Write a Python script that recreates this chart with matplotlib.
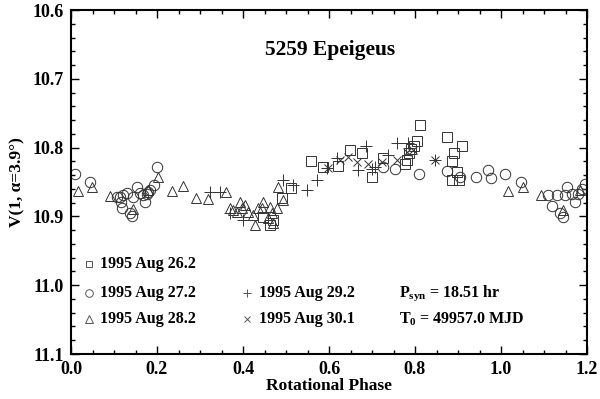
import matplotlib
matplotlib.use("Agg")
import matplotlib.pyplot as plt
from matplotlib.ticker import MultipleLocator, FormatStrFormatter

plt.rcParams['font.family'] = ['Liberation Serif', 'DejaVu Serif']
plt.rcParams['font.weight'] = 'bold'
plt.rcParams['mathtext.fontset'] = 'custom'
plt.rcParams['mathtext.rm'] = 'Liberation Serif:bold'
plt.rcParams['mathtext.bf'] = 'Liberation Serif:bold'
plt.rcParams['mathtext.it'] = 'Liberation Serif:bold'

# Aug 26.2 (squares)
sq_phase = [0.447, 0.470, 0.463, 0.491, 0.512, 0.558, 0.586, 0.621, 0.649, 0.677,
            0.700, 0.726, 0.777, 0.782, 0.786, 0.791, 0.798, 0.805, 0.812, 0.874,
            0.886, 0.891, 0.909, 0.898, 0.886, 0.902]
sq_mag = [10.901, 10.905, 10.913, 10.873, 10.859, 10.819, 10.828, 10.827, 10.803, 10.808,
          10.843, 10.815, 10.824, 10.818, 10.808, 10.802, 10.797, 10.790, 10.767, 10.785,
          10.819, 10.808, 10.798, 10.835, 10.847, 10.847]

# Aug 27.2 (circles)
ci_phase = [0.009, 0.044, 0.107, 0.114, 0.121, 0.130, 0.116, 0.119, 0.137, 0.142,
            0.144, 0.153, 0.160, 0.167, 0.172, 0.177, 0.179, 0.184, 0.193, 0.200,
            0.726, 0.753, 0.809, 0.874, 0.905, 0.942, 0.970, 0.977, 1.009, 1.047,
            1.109, 1.119, 1.130, 1.137, 1.144, 1.149, 1.153, 1.165, 1.172, 1.179,
            1.188, 1.195]
ci_mag = [10.838, 10.850, 10.872, 10.872, 10.869, 10.866, 10.879, 10.888, 10.895, 10.899,
          10.872, 10.857, 10.866, 10.869, 10.879, 10.867, 10.865, 10.862, 10.854, 10.828,
          10.828, 10.831, 10.838, 10.834, 10.843, 10.843, 10.833, 10.844, 10.838, 10.850,
          10.869, 10.885, 10.869, 10.895, 10.901, 10.869, 10.857, 10.867, 10.879, 10.867,
          10.860, 10.853]

# Aug 28.2 (triangles)
tr_phase = [0.016, 0.049, 0.091, 0.144, 0.179, 0.202, 0.235, 0.260, 0.291, 0.319,
            0.360, 0.370, 0.377, 0.386, 0.393, 0.398, 0.405, 0.412, 0.423, 0.428,
            0.435, 0.444, 0.447, 0.458, 0.463, 0.467, 0.470, 0.479, 0.481, 0.493,
            1.016, 1.051, 1.093, 1.144, 1.184]
tr_mag = [10.863, 10.857, 10.870, 10.889, 10.862, 10.843, 10.863, 10.856, 10.873, 10.875,
          10.865, 10.888, 10.891, 10.894, 10.879, 10.888, 10.883, 10.894, 10.898, 10.913,
          10.888, 10.888, 10.879, 10.902, 10.886, 10.895, 10.910, 10.888, 10.857, 10.876,
          10.863, 10.857, 10.869, 10.891, 10.862]

# Aug 29.2 (plus)
pl_phase = [0.323, 0.347, 0.370, 0.400, 0.493, 0.516, 0.549, 0.572, 0.595, 0.619,
            0.686, 0.667, 0.700, 0.707, 0.737, 0.758, 0.784, 0.847]
pl_mag = [10.865, 10.865, 10.895, 10.905, 10.847, 10.854, 10.862, 10.847, 10.830, 10.815,
          10.798, 10.833, 10.831, 10.828, 10.811, 10.793, 10.793, 10.818]

# Aug 30.1 (cross)
xx_phase = [0.598, 0.626, 0.644, 0.665, 0.691, 0.723, 0.758, 0.781, 0.795, 0.847]
xx_mag = [10.830, 10.818, 10.814, 10.821, 10.824, 10.821, 10.818, 10.806, 10.803, 10.818]

labels = ["1995 Aug 26.2", "1995 Aug 27.2", "1995 Aug 28.2", "1995 Aug 29.2", "1995 Aug 30.1"]

fig = plt.figure(figsize=(6, 3.99), dpi=100)
ax = fig.add_axes([71/600, 45/399, 516/600, 344/399])

mc = '#333333'
kw = dict(linestyle='none', markerfacecolor='none', markeredgecolor=mc, markeredgewidth=0.7)
ax.plot(sq_phase, sq_mag, marker='s', markersize=6.5, **kw)
ax.plot(ci_phase, ci_mag, marker='o', markersize=7.5, **kw)
ax.plot(tr_phase, tr_mag, marker='^', markersize=7.5, **kw)
ax.plot(pl_phase, pl_mag, marker='+', markersize=8, **kw)
ax.plot(xx_phase, xx_mag, marker='x', markersize=5.5, **kw)

ax.set_xlim(0.0, 1.2)
ax.set_ylim(11.1, 10.6)
ax.xaxis.set_major_locator(MultipleLocator(0.2))
ax.xaxis.set_minor_locator(MultipleLocator(0.05))
ax.yaxis.set_major_locator(MultipleLocator(0.1))
ax.yaxis.set_minor_locator(MultipleLocator(0.02))
ax.xaxis.set_major_formatter(FormatStrFormatter('%.1f'))
ax.yaxis.set_major_formatter(FormatStrFormatter('%.1f'))
ax.tick_params(which='both', direction='in', top=True, right=True, width=1.0)
ax.tick_params(which='major', length=6, labelsize=13, pad=5)
ax.tick_params(which='minor', length=3)
for s in ax.spines.values():
    s.set_linewidth(1.5)

ax.set_xlabel("Rotational Phase", fontsize=12.5, fontweight='bold', labelpad=0)
ax.set_ylabel("V(1, α=3.9°)", fontsize=12.5, fontweight='bold', labelpad=5)

ax.text(0.502, 0.884, "5259 Epeigeus", transform=ax.transAxes, ha='center', va='center',
        fontsize=15.5, fontweight='bold')

# legend
mk = ['s', 'o', '^', '+', 'x']
ms = [5, 5.5, 5.5, 6, 4]
lkw = dict(kw, markeredgecolor='#555555')
pos = [(0.035, 0.262), (0.035, 0.177), (0.035, 0.102), (0.342, 0.177), (0.342, 0.102)]
for m, s, (px, py), lab in zip(mk, ms, pos, labels):
    ax.plot([px], [py], marker=m, markersize=s, transform=ax.transAxes, clip_on=False, **lkw)
    ax.text(px + 0.022, py, lab, transform=ax.transAxes, ha='left', va='center',
            fontsize=11.5, fontweight='bold')

ax.text(0.635, 0.177, r"P$_{\mathrm{syn}}$ = 18.51 hr", transform=ax.transAxes,
        ha='left', va='center', fontsize=11.5, fontweight='bold')
ax.text(0.635, 0.102, r"T$_{\mathrm{0}}$ = 49957.0 MJD", transform=ax.transAxes,
        ha='left', va='center', fontsize=11.5, fontweight='bold')

fig.savefig("out.png", dpi=100)
